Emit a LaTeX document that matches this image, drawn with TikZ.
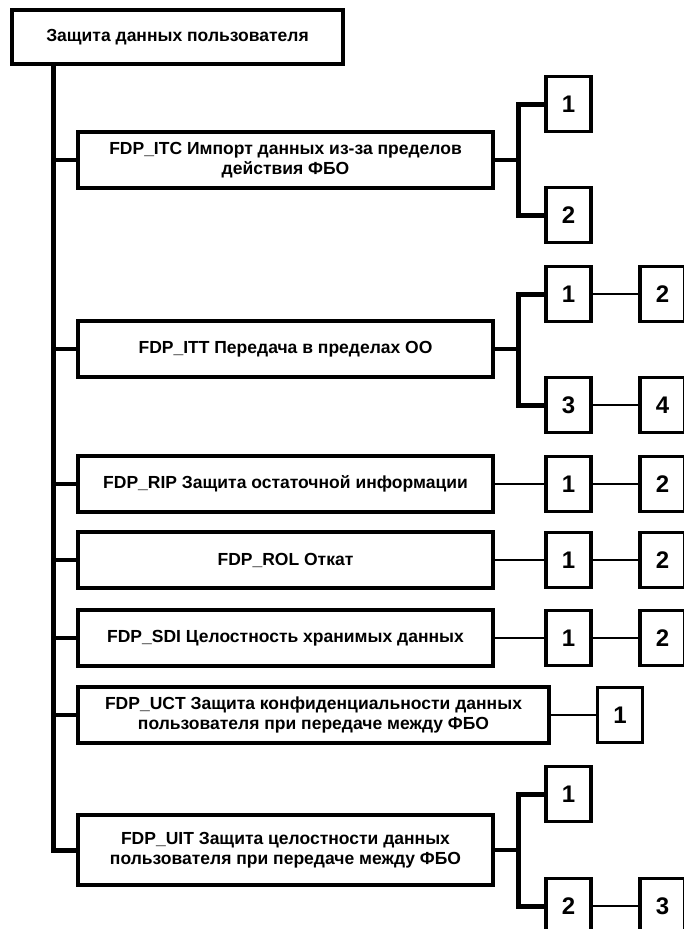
\documentclass[tikz,border=0pt]{standalone}
\usepackage{fontspec}
\setmainfont{Liberation Sans}
\begin{document}
\begin{tikzpicture}[x=1pt,y=-1pt,
  mainbox/.style={draw,line width=4pt,minimum width=415pt,minimum height=56pt,inner sep=0pt,align=center,font=\fontsize{17.5}{20}\selectfont\bfseries},
  numbox/.style={draw,line width=3.5pt,minimum width=45pt,minimum height=55pt,inner sep=0pt,font=\fontsize{24}{24}\selectfont\bfseries},
  trunk/.style={line width=5pt},
  stub/.style={line width=3.5pt},
  thin/.style={line width=2pt}]
\useasboundingbox (0,0) rectangle (684,929);
\begin{scope}
\clip (0,0) rectangle (684,929);
% top box
\node[draw,line width=4pt,minimum width=331pt,minimum height=54pt,inner sep=0pt,font=\fontsize{17.5}{20}\selectfont\bfseries] (top) at (177.5,37) {Защита данных пользователя};
\coordinate (tbase) at (53,64);
\coordinate (tend) at (53,850);
% main boxes
\node[mainbox] (itc) at (285.5,160) {FDP\_ITC Импорт данных из-за пределов\\действия ФБО};
\node[mainbox] (itt) at (285.5,349) {FDP\_ITT Передача в пределах ОО};
\node[mainbox] (rip) at (285.5,484) {FDP\_RIP Защита остаточной информации};
\node[mainbox] (rol) at (285.5,560) {FDP\_ROL Откат};
\node[mainbox] (sdi) at (285.5,638) {FDP\_SDI Целостность хранимых данных};
\node[mainbox,minimum width=471pt] (uct) at (313.5,715) {FDP\_UCT Защита конфиденциальности данных\\пользователя при передаче между ФБО};
\node[mainbox,minimum height=70pt] (uit) at (285.5,850) {FDP\_UIT Защита целостности данных\\пользователя при передаче между ФБО};
% trunk
\draw[trunk] (tbase) -- (tend) -- (uit.west);
\foreach \b in {itc,itt,rip,rol,sdi,uct}{
  \draw[stub] (53,0 |- \b.west) -- (\b.west);
}
% number boxes
\node[numbox] (itc1) at (568.5,104) {1};
\node[numbox] (itc2) at (568.5,215) {2};
\node[numbox] (itt1) at (568.5,294) {1};
\node[numbox] (itt2) at (662.5,294) {2};
\node[numbox] (itt3) at (568.5,405) {3};
\node[numbox] (itt4) at (662.5,405) {4};
\node[numbox] (rip1) at (568.5,484) {1};
\node[numbox] (rip2) at (662.5,484) {2};
\node[numbox] (rol1) at (568.5,560) {1};
\node[numbox] (rol2) at (662.5,560) {2};
\node[numbox] (sdi1) at (568.5,638) {1};
\node[numbox] (sdi2) at (662.5,638) {2};
\node[numbox] (uct1) at (620,715) {1};
\node[numbox] (uit1) at (568.5,794) {1};
\node[numbox] (uit2) at (568.5,906) {2};
\node[numbox] (uit3) at (662.5,906) {3};
% junctions
\coordinate (jitc) at (518,160);
\coordinate (jitt) at (518,349);
\coordinate (juit) at (518,850);
\draw[stub] (itc.east) -- (jitc);
\draw[trunk] (itc1.west) -| (jitc) |- (itc2.west);
\draw[stub] (itt.east) -- (jitt);
\draw[trunk] (itt1.west) -| (jitt) |- (itt3.west);
\draw[stub] (uit.east) -- (juit);
\draw[trunk] (uit1.west) -| (juit) |- (uit2.west);
% thin connectors
\draw[thin] (itt1) -- (itt2);
\draw[thin] (itt3) -- (itt4);
\draw[thin] (rip) -- (rip1);
\draw[thin] (rip1) -- (rip2);
\draw[thin] (rol) -- (rol1);
\draw[thin] (rol1) -- (rol2);
\draw[thin] (sdi) -- (sdi1);
\draw[thin] (sdi1) -- (sdi2);
\draw[thin] (uct) -- (uct1);
\draw[thin] (uit2) -- (uit3);
\end{scope}
\end{tikzpicture}
\end{document}
